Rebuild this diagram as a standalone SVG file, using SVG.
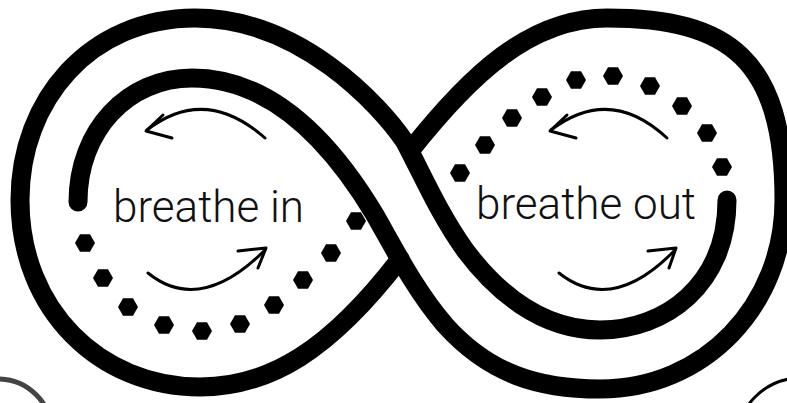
<svg xmlns="http://www.w3.org/2000/svg" width="787" height="403" viewBox="0 0 787 403">
  <style>
    .band { fill: none; stroke: #000; stroke-width: 19; stroke-linecap: round; stroke-linejoin: round; }
    .arrow { fill: none; stroke: #000; stroke-width: 3; stroke-linecap: round; stroke-linejoin: round; }
    .label { font-family: Roboto, "Liberation Sans", sans-serif; font-weight: 300; font-size: 44px; fill: #111; }
  </style>
  <defs>
    <polygon id="dot" points="10,0 5,8.7 -5,8.7 -10,0 -5,-8.7 5,-8.7" fill="#000"/>
  </defs>
  <rect width="787" height="403" fill="#fff"/>

  <g id="connectors">
    <path class="band" d="M727,200 C727,285 665,330 600,330 C540,330 495,290 465,250 C440,215 425,180 405,142 C380,105 300,18 195,18 C90,18 20,100 20,200 C20,310 100,387 200,387 C270,387 330,350 400,259"/>
    <path class="band" d="M78,202 C78,130 128,78 192,78 C270,78 330,140 375,215 C395,250 415,290 445,325 C490,375 540,389 600,389 C705,389 784,305 784,200 C784,60 730,18 607,18 C530,18 470,75 410,151"/>
  </g>

  <g id="lobe-left">
    <use href="#dot" x="85" y="243"/>
    <use href="#dot" x="103" y="278"/>
    <use href="#dot" x="128" y="307"/>
    <use href="#dot" x="164" y="325"/>
    <use href="#dot" x="202" y="331"/>
    <use href="#dot" x="240" y="324"/>
    <use href="#dot" x="274" y="305"/>
    <use href="#dot" x="303" y="280"/>
    <use href="#dot" x="331" y="253"/>
    <use href="#dot" x="356" y="221"/>
    <path class="arrow" d="M265,138 Q205,85 147,130"/>
    <path class="arrow" d="M163,115 L146,131 L172,138"/>
    <path class="arrow" d="M148,273 Q200,315 265,250"/>
    <path class="arrow" d="M238,251 L266,248 L258,268"/>
    <text class="label" x="113" y="222">breathe in</text>
  </g>

  <g id="lobe-right">
    <use href="#dot" x="460" y="173"/>
    <use href="#dot" x="485" y="145"/>
    <use href="#dot" x="512" y="118"/>
    <use href="#dot" x="542" y="97"/>
    <use href="#dot" x="576" y="80"/>
    <use href="#dot" x="613" y="76"/>
    <use href="#dot" x="650" y="86"/>
    <use href="#dot" x="682" y="106"/>
    <use href="#dot" x="707" y="133"/>
    <use href="#dot" x="722" y="167"/>
    <path class="arrow" d="M667,138 Q610,85 551,130"/>
    <path class="arrow" d="M567,115 L550,131 L576,138"/>
    <path class="arrow" d="M559,273 Q612,315 675,250"/>
    <path class="arrow" d="M648,251 L676,248 L669,268"/>
    <text class="label" x="476" y="219">breathe out</text>
  </g>

  <g id="corner-left">
    <circle cx="-2" cy="433" r="54" fill="none" stroke="#444" stroke-width="5"/>
  </g>
  <g id="corner-right">
    <circle cx="801" cy="443" r="65" fill="none" stroke="#000" stroke-width="3"/>
  </g>
</svg>
